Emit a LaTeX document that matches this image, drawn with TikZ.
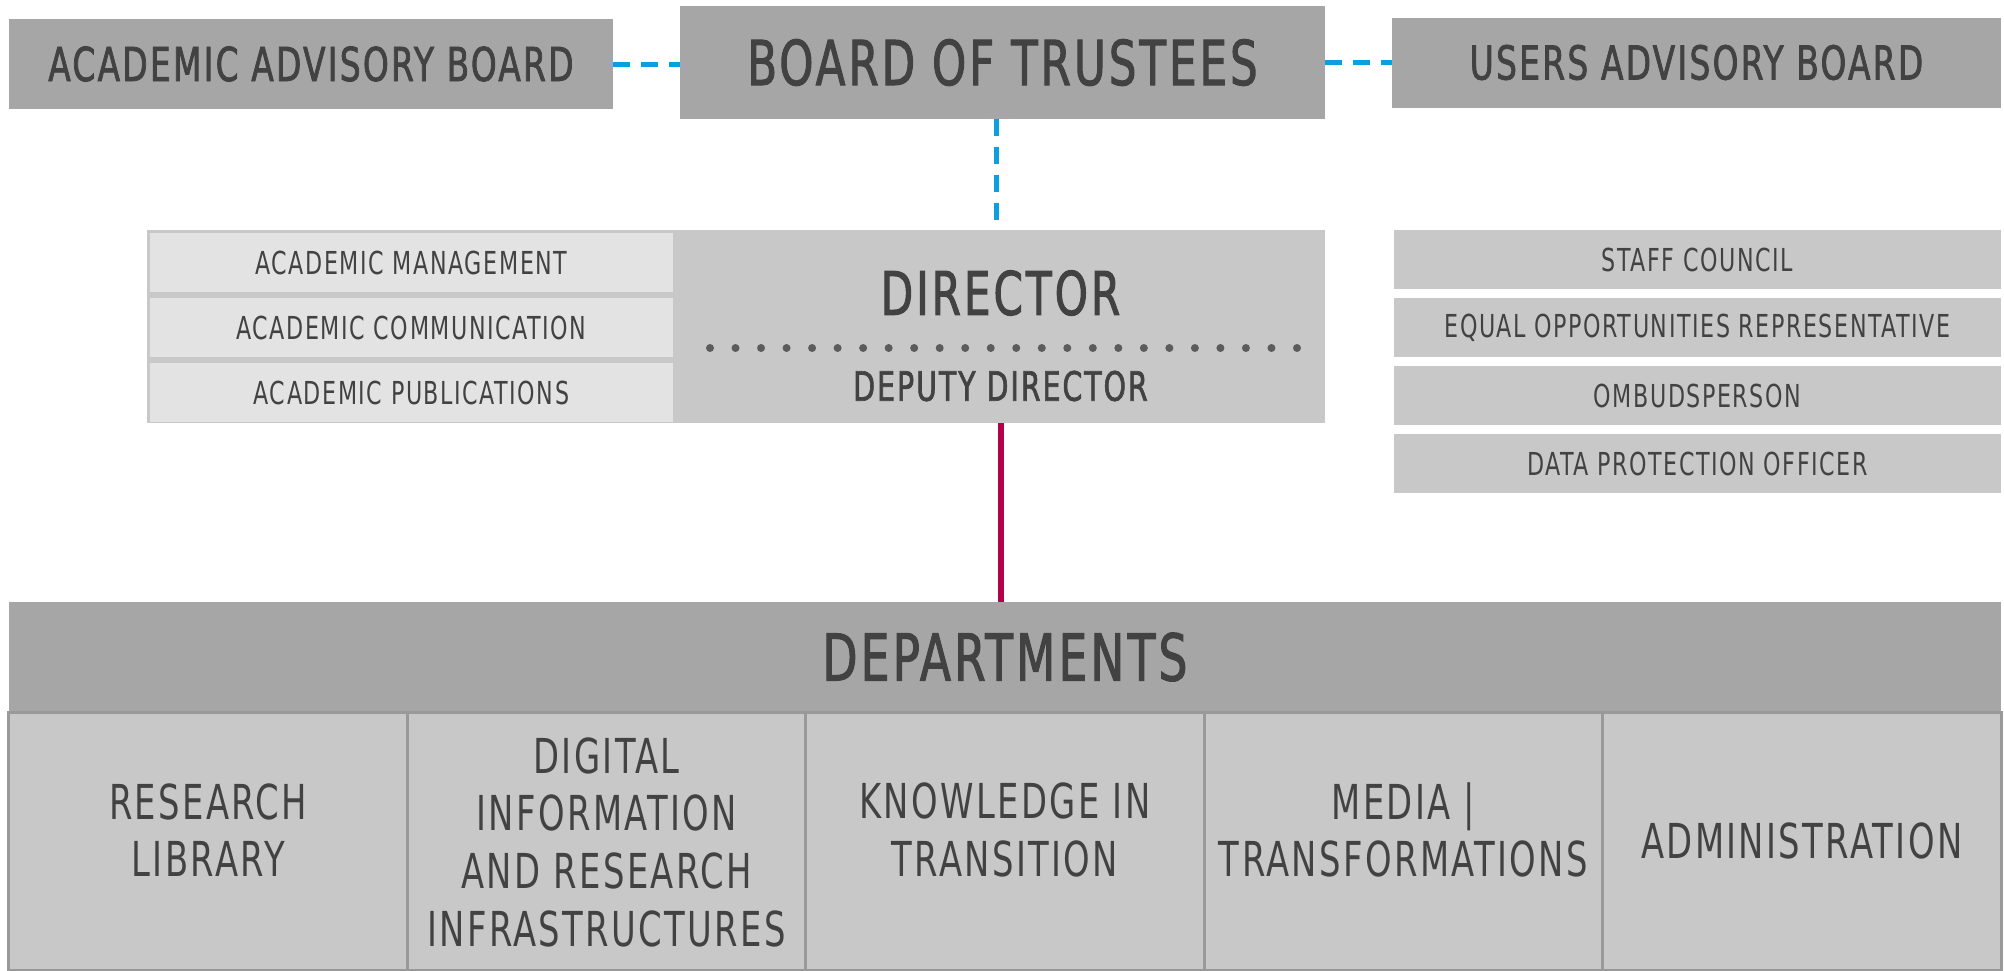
\documentclass[tikz,border=0pt]{standalone}
\usepackage{fontspec}
\setmainfont{DejaVu Sans Condensed}[FakeStretch=0.78,LetterSpace=5]
\newfontfamily\headfont{DejaVu Sans Condensed}[FakeStretch=0.78,LetterSpace=5,FakeBold=1.6]
\usetikzlibrary{positioning}

\definecolor{boxdark}{HTML}{A6A6A6}
\definecolor{boxmid}{HTML}{C8C8C8}
\definecolor{boxlight}{HTML}{E3E3E3}
\definecolor{txt}{HTML}{424242}
\definecolor{dotgray}{HTML}{5C5C5C}
\definecolor{linkblue}{HTML}{0A9FE0}
\definecolor{linkred}{HTML}{B3004B}
\newcommand{\fsz}[2]{\fontsize{#1}{#2}\selectfont}

\begin{document}
\begin{tikzpicture}[inner sep=0pt, outer sep=0pt, text=txt, node distance=0.09cm]
\tikzstyle{board}=[fill=boxdark, minimum height=0.90cm, font=\headfont\fsz{13.3}{16}]
\tikzstyle{topboard}=[fill=boxdark, minimum width=6.45cm, minimum height=1.13cm, font=\headfont\fsz{17.6}{21}]
\tikzstyle{unit}=[fill=boxlight, minimum width=5.23cm, minimum height=0.59cm, font=\fsz{9}{11}]
\tikzstyle{office}=[fill=boxmid, minimum width=6.07cm, minimum height=0.59cm, font=\fsz{9}{11}]
\tikzstyle{dept}=[fill=boxmid, draw=boxdark!92!black, line width=0.03cm, minimum width=3.984cm, minimum height=2.58cm]
\tikzstyle{depttext}=[align=center, font=\fsz{13.7}{16.4}]
\tikzstyle{dash link}=[linkblue, line width=0.05cm, dash pattern=on 0.17cm off 0.11cm]
\useasboundingbox (0,0) rectangle (20.04,-9.70);

% boards
\node[topboard] (bot) at (10.025,-0.625) {BOARD OF TRUSTEES};
\node[board, minimum width=6.04cm] (aab) at (3.11,-0.64) {ACADEMIC ADVISORY BOARD};
\node[board, minimum width=6.09cm] (uab) at (16.965,-0.625) {USERS ADVISORY BOARD};

% director block
\node[fill=boxmid, minimum width=11.78cm, minimum height=1.93cm] (lead) at (7.36,-3.265) {};
\node[minimum width=6.49cm, minimum height=1.93cm] (dir) at (10.005,-3.265) {};
\node[font=\headfont\fsz{17.1}{20}] (dtitle) at (10.005,-2.93) {DIRECTOR};
\node[font=\headfont\fsz{11.5}{14}] (deputy) at (10.005,-3.86) {DEPUTY DIRECTOR};
\coordinate (dl) at (7.10,-3.48);
\coordinate (dr) at (12.975,-3.48);
\draw[dotgray, line width=0.08cm, line cap=round, dash pattern=on 0pt off 0.2552cm] (dl) -- (dr);

\node[unit] (mgmt) at (4.115,-2.625) {ACADEMIC MANAGEMENT};
\node[unit, below=0.06cm of mgmt] (comm) {ACADEMIC COMMUNICATION};
\node[unit, below=0.06cm of comm] (publ) {ACADEMIC PUBLICATIONS};

% staff side
\node[office] (staff) at (16.975,-2.595) {STAFF COUNCIL};
\node[office, below=of staff] (equal) {EQUAL OPPORTUNITIES REPRESENTATIVE};
\node[office, below=of equal] (ombud) {OMBUDSPERSON};
\node[office, below=of ombud] (dpo) {DATA PROTECTION OFFICER};

% departments
\node[fill=boxdark, minimum width=19.92cm, minimum height=1.10cm, font=\headfont\fsz{18.4}{22}] (deps) at (10.05,-6.57) {DEPARTMENTS};
\foreach \name/\lift [count=\i] in {{RESEARCH\\LIBRARY}/0.11, {DIGITAL\\INFORMATION\\AND RESEARCH\\INFRASTRUCTURES}/-0.01, {KNOWLEDGE IN\\TRANSITION}/0.11, {MEDIA |\\TRANSFORMATIONS}/0.11, {ADMINISTRATION}/0.0}
{
  \node[dept] (d\i) at ({0.09+(\i-0.5)*3.984},-8.41) {};
  \node[depttext] (t\i) at ([yshift=\lift cm]d\i.center) {\name};
}

% links
\draw[dash link] (aab.east) -- (aab.east -| bot.west);
\draw[dash link] (bot.east) -- (bot.east -| uab.west);
\draw[dash link] ([xshift=-0.06cm]bot.south) -- ([xshift=-0.06cm]bot.south |- lead.north);
\draw[linkred, line width=0.06cm] (dir.south) -- (dir.south |- deps.north);
\end{tikzpicture}
\end{document}
